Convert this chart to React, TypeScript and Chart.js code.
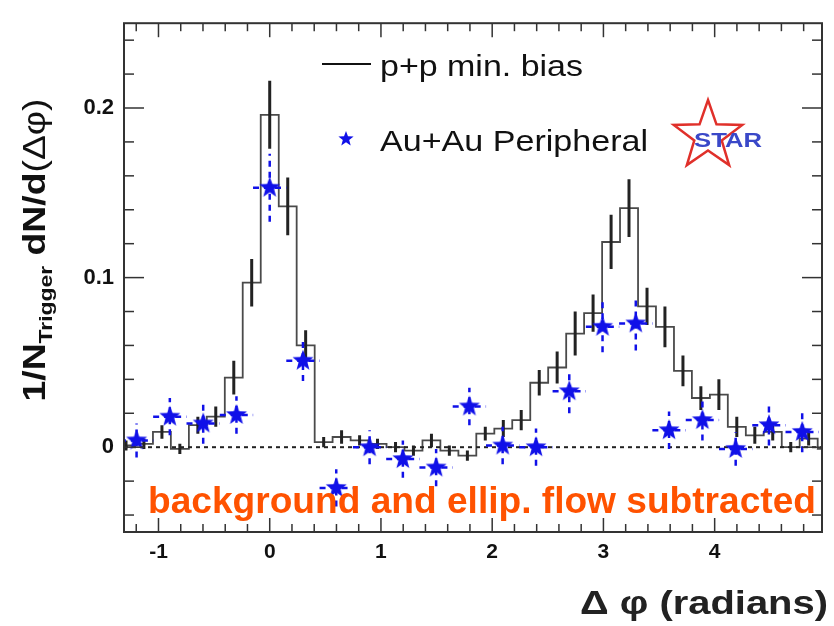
import React, { useEffect, useRef } from "react";
import { Chart, registerables } from "chart.js";

Chart.register(...registerables);

// ---------------- data ----------------
// p+p min. bias histogram: bin centres (radians), contents and errors
const ppPhi = [
  -1.292, -1.131, -0.969, -0.808, -0.646, -0.485, -0.323, -0.162, 0.0, 0.162,
  0.323, 0.485, 0.646, 0.808, 0.969, 1.131, 1.292, 1.454, 1.615, 1.777,
  1.938, 2.1, 2.261, 2.423, 2.584, 2.746, 2.907, 3.069, 3.23, 3.392,
  3.553, 3.715, 3.876, 4.038, 4.199, 4.361, 4.522, 4.684, 4.845, 5.007,
];
const ppValues = [
  0.001, 0.002, 0.009, -0.001, 0.013, 0.018, 0.041, 0.097, 0.196, 0.142,
  0.06, 0.003, 0.006, 0.004, 0.002, 0.0, -0.002, 0.004, -0.002, -0.005,
  0.008, 0.011, 0.016, 0.038, 0.047, 0.067, 0.079, 0.121, 0.141, 0.083,
  0.071, 0.045, 0.029, 0.031, 0.012, 0.007, 0.009, 0.0, 0.005, -0.001,
];
const ppErrors = [
  0.003, 0.003, 0.004, 0.003, 0.005, 0.006, 0.01, 0.014, 0.02, 0.017,
  0.009, 0.003, 0.004, 0.003, 0.003, 0.003, 0.003, 0.004, 0.003, 0.003,
  0.004, 0.005, 0.006, 0.0075, 0.0095, 0.013, 0.011, 0.016, 0.017, 0.011,
  0.012, 0.009, 0.007, 0.009, 0.006, 0.005, 0.005, 0.003, 0.004, 0.003,
];
const ppBinWidth = 0.1615;

// Au+Au peripheral points
const auPhi = [
  -1.197, -0.898, -0.598, -0.299, 0.0, 0.299, 0.598, 0.898, 1.197, 1.496,
  1.795, 2.094, 2.394, 2.693, 2.992, 3.291, 3.59, 3.89, 4.189, 4.488, 4.787,
];
const auValues = [
  0.004, 0.018, 0.014, 0.019, 0.153, 0.051, -0.024, 0.0, -0.007, -0.012,
  0.024, 0.001, 0.0, 0.033, 0.071, 0.073, 0.01, 0.016, -0.001, 0.013, 0.009,
];
const auErrors = [
  0.01, 0.011, 0.012, 0.011, 0.02, 0.012, 0.011, 0.01, 0.011, 0.011,
  0.011, 0.011, 0.011, 0.013, 0.015, 0.016, 0.011, 0.012, 0.01, 0.012, 0.012,
];
const auXHalfWidth = 0.15;

// axes
const xMin = -1.31;
const xMax = 4.965;
const yMin = -0.05;
const yMax = 0.25;
const xTickValues = [-1, 0, 1, 2, 3, 4];
const yTickValues = [0, 0.1, 0.2];

const legendLabels = ["p+p min. bias", "Au+Au Peripheral"];
const noteText = "background and ellip. flow subtracted";

const FONT = "'Liberation Sans', Arial, Helvetica, sans-serif";

function starPath(ctx: CanvasRenderingContext2D, cx: number, cy: number, r: number, ratio: number) {
  ctx.beginPath();
  for (let i = 0; i < 10; i++) {
    const rad = i % 2 === 0 ? r : r * ratio;
    const a = -Math.PI / 2 + (i * Math.PI) / 5;
    const px = cx + rad * Math.cos(a);
    const py = cy + rad * Math.sin(a);
    if (i === 0) ctx.moveTo(px, py);
    else ctx.lineTo(px, py);
  }
  ctx.closePath();
}

function makeStar(r: number, color: string) {
  const c = document.createElement("canvas");
  const s = Math.ceil(2 * r + 2);
  c.width = s;
  c.height = s;
  const g = c.getContext("2d")!;
  g.fillStyle = color;
  starPath(g, s / 2, s / 2, r, 0.42);
  g.fill();
  return c;
}

function fitText(
  ctx: CanvasRenderingContext2D,
  text: string,
  x: number,
  y: number,
  font: string,
  width: number,
  color: string,
  align: "left" | "right" | "center" = "left"
) {
  ctx.save();
  ctx.font = font;
  ctx.textBaseline = "alphabetic";
  ctx.textAlign = "left";
  const w = ctx.measureText(text).width;
  const s = width / w;
  ctx.translate(x, y);
  ctx.scale(s, 1);
  ctx.fillStyle = color;
  const x0 = align === "left" ? 0 : align === "right" ? -w : -w / 2;
  ctx.fillText(text, x0, 0);
  ctx.restore();
}

const BLUE = "#1010e8";

const errorBarPlugin = {
  id: "errorBars",
  afterDatasetDraw(chart: any, args: any) {
    const { ctx, chartArea, scales } = chart;
    const x = scales.x;
    const y = scales.y;
    if (args.index !== 0) return;
    ctx.save();
    ctx.beginPath();
    ctx.rect(chartArea.left, chartArea.top, chartArea.right - chartArea.left, chartArea.bottom - chartArea.top);
    ctx.clip();
    ctx.strokeStyle = "#222";
    ctx.lineWidth = 3;
    for (let i = 0; i < ppPhi.length; i++) {
      const px = x.getPixelForValue(ppPhi[i]);
      ctx.beginPath();
      ctx.moveTo(px, y.getPixelForValue(ppValues[i] - ppErrors[i]));
      ctx.lineTo(px, y.getPixelForValue(ppValues[i] + ppErrors[i]));
      ctx.stroke();
    }
    ctx.restore();
  },
  beforeDatasetDraw(chart: any, args: any) {
    const { ctx, chartArea, scales } = chart;
    const x = scales.x;
    const y = scales.y;
    if (args.index !== 2) return;
    ctx.save();
    ctx.beginPath();
    ctx.rect(chartArea.left, chartArea.top, chartArea.right - chartArea.left, chartArea.bottom - chartArea.top);
    ctx.clip();
    ctx.strokeStyle = BLUE;
    ctx.lineWidth = 2.5;
    ctx.setLineDash([6, 5]);
    for (let i = 0; i < auPhi.length; i++) {
      const px = x.getPixelForValue(auPhi[i]);
      const py = y.getPixelForValue(auValues[i]);
      ctx.beginPath();
      ctx.moveTo(px, y.getPixelForValue(auValues[i] - auErrors[i]));
      ctx.lineTo(px, y.getPixelForValue(auValues[i] + auErrors[i]));
      ctx.stroke();
      ctx.beginPath();
      ctx.moveTo(x.getPixelForValue(auPhi[i] - auXHalfWidth), py);
      ctx.lineTo(x.getPixelForValue(auPhi[i] + auXHalfWidth), py);
      ctx.stroke();
    }
    ctx.restore();
  },
};

const framePlugin = {
  id: "frame",
  afterDatasetsDraw(chart: any) {
    const { ctx, chartArea, scales } = chart;
    const { left, right, top, bottom } = chartArea;
    const x = scales.x;
    const y = scales.y;
    ctx.save();
    ctx.strokeStyle = "#333";
    ctx.lineWidth = 2;
    ctx.strokeRect(left, top, right - left, bottom - top);
    ctx.lineWidth = 1.5;
    const seg = (a: number, b: number, c: number, d: number) => {
      ctx.beginPath();
      ctx.moveTo(a, b);
      ctx.lineTo(c, d);
      ctx.stroke();
    };
    for (let i = -7; i <= 25; i++) {
      const v = i * 0.2;
      if (v < xMin || v > xMax) continue;
      const px = x.getPixelForValue(v);
      const major = i % 5 === 0;
      const len = major ? 14 : 8;
      seg(px, bottom, px, bottom - len);
      seg(px, top, px, top + len);
    }
    for (let i = -2; i <= 12; i++) {
      const v = i * 0.02;
      if (v < yMin || v > yMax) continue;
      const py = y.getPixelForValue(v);
      const major = i % 5 === 0;
      const len = major ? 20 : 10;
      seg(left, py, left + len, py);
      seg(right, py, right - len, py);
    }
    ctx.restore();
  },
};

const textPlugin = {
  id: "texts",
  afterDraw(chart: any) {
    const ctx: CanvasRenderingContext2D = chart.ctx;
    // legend
    ctx.save();
    ctx.strokeStyle = "#111";
    ctx.lineWidth = 2;
    ctx.beginPath();
    ctx.moveTo(322, 64);
    ctx.lineTo(371, 64);
    ctx.stroke();
    ctx.fillStyle = BLUE;
    starPath(ctx, 346, 139, 8, 0.42);
    ctx.fill();
    ctx.restore();
    fitText(ctx, legendLabels[0], 380, 76, `30px ${FONT}`, 203, "#111");
    fitText(ctx, legendLabels[1], 380, 151, `30px ${FONT}`, 268, "#111");

    // STAR logo
    ctx.save();
    ctx.strokeStyle = "#e0302a";
    ctx.lineWidth = 2.5;
    starPath(ctx, 708, 136, 36, 0.4);
    ctx.stroke();
    ctx.restore();
    fitText(ctx, "STAR", 728, 147, `bold 21px ${FONT}`, 68, "#3a48c8", "center");

    // note
    fitText(ctx, noteText, 148, 513, `bold 37px ${FONT}`, 668, "#ff5200");

    // x title
    fitText(ctx, "\u0394 \u03c6 (radians)", 828, 614, `bold 34px ${FONT}`, 248, "#222", "right");

    // y title (rotated)
    ctx.save();
    ctx.translate(45, 250);
    ctx.rotate(-Math.PI / 2);
    const fMain = `bold 31px ${FONT}`;
    const fSub = `bold 19px ${FONT}`;
    const fThin = `31px ${FONT}`;
    const parts: [string, string, number][] = [
      ["1/N", fMain, 0],
      ["Trigger", fSub, 7],
      [" dN/d", fMain, 0],
      ["(\u0394\u03c6)", fThin, 0],
    ];
    let total = 0;
    const widths: number[] = [];
    for (const [t, f] of parts) {
      ctx.font = f;
      const w = ctx.measureText(t).width;
      widths.push(w);
      total += w;
    }
    const target = 303;
    const s = target / total;
    ctx.scale(s, 1);
    let cx = -total / 2;
    ctx.fillStyle = "#111";
    ctx.textAlign = "left";
    ctx.textBaseline = "alphabetic";
    parts.forEach(([t, f, dy], i) => {
      ctx.font = f;
      ctx.fillText(t, cx, dy);
      cx += widths[i];
    });
    ctx.restore();
  },
};

export default function App() {
  const ref = useRef<HTMLCanvasElement>(null);
  useEffect(() => {
    const canvas = ref.current!;
    // histogram outline built from bin edges (value k spans [left edge k, left edge k+1])
    const histData = ppPhi.map((c, i) => ({ x: c - ppBinWidth / 2, y: ppValues[i] }));
    histData.push({
      x: ppPhi[ppPhi.length - 1] + ppBinWidth / 2,
      y: ppValues[ppValues.length - 1],
    });
    const chart = new Chart(canvas, {
      type: "scatter",
      data: {
        datasets: [
          {
            type: "line",
            label: legendLabels[0],
            data: histData,
            stepped: "before",
            borderColor: "#4a4a4a",
            borderWidth: 1.8,
            pointRadius: 0,
            fill: false,
            order: 2,
          } as any,
          {
            type: "line",
            label: "zero",
            data: [
              { x: xMin, y: 0 },
              { x: xMax, y: 0 },
            ],
            borderColor: "#222",
            borderWidth: 2,
            borderDash: [4, 4],
            pointRadius: 0,
            order: 1,
          } as any,
          {
            type: "scatter",
            label: legendLabels[1],
            data: auPhi.map((p, i) => ({ x: p, y: auValues[i] })),
            pointStyle: makeStar(11, BLUE),
            pointRadius: 11,
            order: 0,
          } as any,
        ],
      },
      options: {
        animation: false,
        responsive: false,
        maintainAspectRatio: false,
        layout: { padding: { top: 12, right: 1, left: 0, bottom: 0 } },
        plugins: {
          legend: { display: false },
          tooltip: { enabled: false },
        },
        scales: {
          x: {
            type: "linear",
            min: xMin,
            max: xMax,
            grid: { display: false, drawTicks: false },
            border: { display: false },
            afterBuildTicks: (scale: any) => {
              scale.ticks = xTickValues.map((v) => ({ value: v }));
            },
            afterFit: (scale: any) => {
              scale.height = 94;
            },
            ticks: {
              autoSkip: false,
              maxRotation: 0,
              padding: 8,
              color: "#111",
              font: { family: FONT, size: 21, weight: "bold" },
              callback: (v: any) => String(v),
            },
          },
          y: {
            type: "linear",
            min: yMin,
            max: yMax,
            grid: { display: false, drawTicks: false },
            border: { display: false },
            afterBuildTicks: (scale: any) => {
              scale.ticks = yTickValues.map((v) => ({ value: v }));
            },
            afterFit: (scale: any) => {
              scale.width = 124;
            },
            ticks: {
              autoSkip: false,
              padding: 10,
              color: "#111",
              font: { family: FONT, size: 22, weight: "bold" },
              callback: (v: any) => (v === 0 ? "0" : Number(v).toFixed(1)),
            },
          },
        },
      },
      plugins: [errorBarPlugin, framePlugin, textPlugin],
    });
    return () => chart.destroy();
  }, []);
  return (
    <div style={{ position: "absolute", left: 0, top: 0, width: 834, height: 626, background: "#fff" }}>
      <canvas ref={ref} width={834} height={626} style={{ display: "block" }} />
    </div>
  );
}
